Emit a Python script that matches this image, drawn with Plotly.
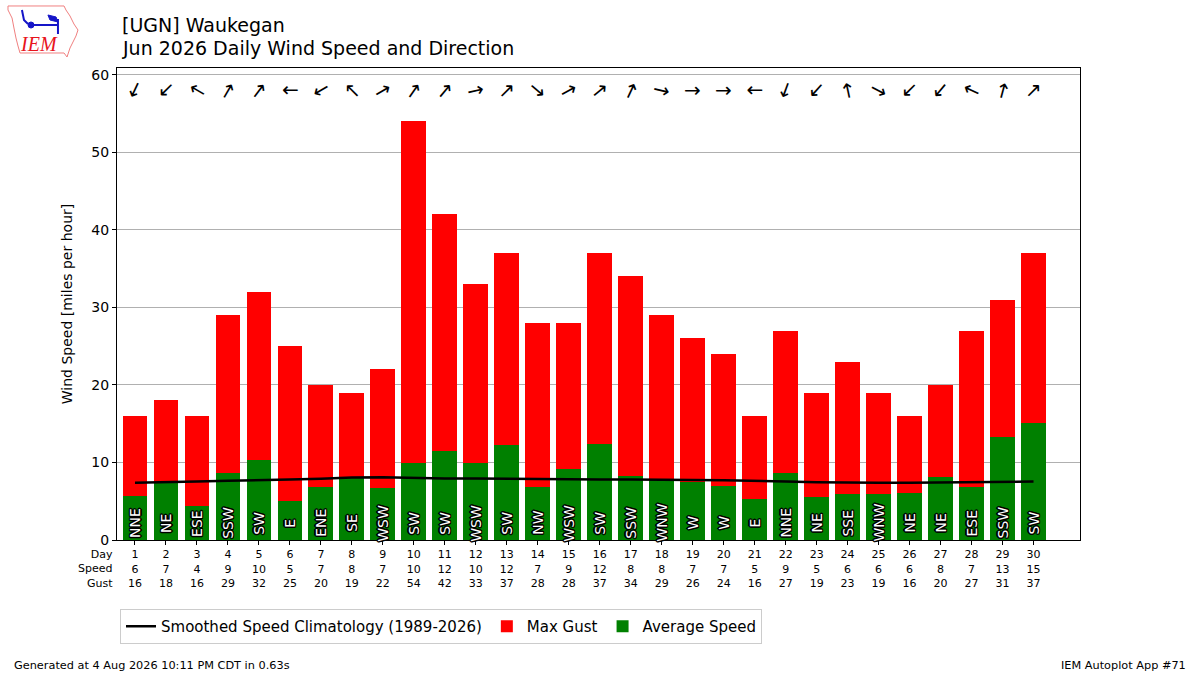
"""Daily wind speed and direction chart, IEM style"""
import plotly.graph_objects as go

W, H = 1200, 675
# plot area in pixels
PL, PR, PT, PB = 117, 1080, 68, 540

DAYS = list(range(1, 31))
AVG_SPEED = [5.7, 7.4, 4.4, 8.6, 10.3, 5.0, 6.8, 8.0, 6.7, 10.0,
             11.5, 9.9, 12.2, 6.8, 9.1, 12.4, 8.3, 7.9, 7.5, 7.0,
             5.3, 8.6, 5.5, 6.0, 6.0, 6.1, 8.1, 6.8, 13.3, 15.1]
MAX_GUST = [16, 18, 16, 29, 32, 25, 20, 19, 22, 54,
            42, 33, 37, 28, 28, 37, 34, 29, 26, 24,
            16, 27, 19, 23, 19, 16, 20, 27, 31, 37]
SPEED_LABEL = [6, 7, 4, 9, 10, 5, 7, 8, 7, 10,
               12, 10, 12, 7, 9, 12, 8, 8, 7, 7,
               5, 9, 5, 6, 6, 6, 8, 7, 13, 15]
DIR_DEG = [25, 45, 120, 210, 217, 90, 60, 135, 240, 215,
           220, 257, 225, 310, 242, 230, 205, 283, 270, 270,
           90, 20, 42, 168, 298, 45, 40, 115, 195, 225]
DIR_TXT = ["NNE", "NE", "ESE", "SSW", "SW", "E", "ENE", "SE", "WSW", "SW",
           "SW", "WSW", "SW", "NW", "WSW", "SW", "SSW", "WNW", "W", "W",
           "E", "NNE", "NE", "SSE", "WNW", "NE", "NE", "ESE", "SSW", "SW"]
CLIMO = [7.4, 7.45, 7.55, 7.65, 7.7, 7.8, 7.9, 8.05, 8.1, 8.0,
         7.95, 7.95, 7.9, 7.85, 7.8, 7.8, 7.8, 7.8, 7.75, 7.7,
         7.65, 7.55, 7.45, 7.4, 7.4, 7.4, 7.45, 7.45, 7.5, 7.55]

FONT = "DejaVu Sans"
OUTLINE = ("-1px -1px 0 #000, 1px -1px 0 #000, -1px 1px 0 #000, 1px 1px 0 #000, "
           "0 -1.5px 0 #000, 0 1.5px 0 #000, -1.5px 0 0 #000, 1.5px 0 0 #000")
LOGO_RED = "#e8141c"
LOGO_BLUE = "#1515c8"


def px2paper(x, y):
  return (x - PL) / (PR - PL), (PB - y) / (PB - PT)


def px_path(points, close=True):
  s = "M " + " L ".join(f"{px2paper(x, y)[0]:.4f},{px2paper(x, y)[1]:.4f}" for x, y in points)
  return s + (" Z" if close else "")


fig = go.Figure()
fig.add_trace(go.Bar(x=DAYS, y=MAX_GUST, width=0.8, marker=dict(color="#ff0000", line=dict(width=0)),
                     name="Max Gust", legendrank=2, opacity=1))
fig.add_trace(go.Bar(x=DAYS, y=AVG_SPEED, width=0.8, marker=dict(color="#008000", line=dict(width=0)),
                     name="Average Speed", legendrank=3, opacity=1))
fig.add_trace(go.Scatter(x=DAYS, y=CLIMO, mode="lines", line=dict(color="black", width=2.5),
                         name="Smoothed Speed Climatology (1989-2026)", legendrank=1))

annotations = []
# direction arrows along the top
for d, deg in zip(DAYS, DIR_DEG):
  ang = (deg + 90) % 360
  if ang > 180:
    ang -= 360
  annotations.append(dict(x=d, y=58, xref="x", yref="y", text="→", showarrow=False,
                          textangle=ang, font=dict(family=FONT, size=20, color="black")))
# direction text inside the bars
for d, t in zip(DAYS, DIR_TXT):
  annotations.append(dict(x=d, y=2.2, xref="x", yref="y", text=t, showarrow=False,
                          textangle=-90, xanchor="center", yanchor="middle",
                          font=dict(family=FONT, size=14, color="white", shadow=OUTLINE)))
# row titles for the table under the axis
annotations.append(dict(x=0, y=-0.013, xref="paper", yref="paper", xanchor="right", yanchor="top",
                        xshift=-2, text="Day<br>Speed<br>Gust", align="right", showarrow=False,
                        font=dict(family=FONT, size=11, color="black")))
# title, two lines
annotations.append(dict(x=px2paper(120, 0)[0], y=px2paper(0, 25)[1], xref="paper", yref="paper",
                        xanchor="left", yanchor="middle", showarrow=False, text="[UGN] Waukegan",
                        font=dict(family=FONT, size=19, color="black")))
annotations.append(dict(x=px2paper(120, 0)[0], y=px2paper(0, 48)[1], xref="paper", yref="paper",
                        xanchor="left", yanchor="middle", showarrow=False,
                        text="Jun 2026 Daily Wind Speed and Direction",
                        font=dict(family=FONT, size=19, color="black")))
# footer
annotations.append(dict(x=px2paper(12, 0)[0], y=px2paper(0, 665)[1], xref="paper", yref="paper",
                        xanchor="left", yanchor="middle", showarrow=False,
                        text="Generated at 4 Aug 2026 10:11 PM CDT in 0.63s",
                        font=dict(family=FONT, size=11.3, color="black")))
annotations.append(dict(x=px2paper(1188, 0)[0], y=px2paper(0, 665)[1], xref="paper", yref="paper",
                        xanchor="right", yanchor="middle", showarrow=False,
                        text="IEM Autoplot App #71",
                        font=dict(family=FONT, size=11.3, color="black")))
# logo text
annotations.append(dict(x=px2paper(39, 0)[0], y=px2paper(0, 44)[1], xref="paper", yref="paper",
                        xanchor="center", yanchor="middle", showarrow=False, text="<i>IEM</i>",
                        font=dict(family="Liberation Serif", size=20, color=LOGO_RED)))

# rough state outline + weather vane for the logo
outline = [(8, 6), (64, 6), (66, 10), (70, 16), (74, 24), (78, 30), (76, 36), (73, 42),
           (70, 48), (67, 57), (64, 53), (20, 53), (18, 46), (16, 38), (14, 28), (12, 18), (8, 10)]
shapes = [dict(type="path", path=px_path(outline), xref="paper", yref="paper",
               line=dict(color="#f08080", width=1), fillcolor="rgba(0,0,0,0)")]
for seg in ([(31, 25), (58, 25)], [(58, 19), (58, 34)], [(22, 10), (24, 20), (28, 24)]):
  shapes.append(dict(type="path", path=px_path(seg, close=False), xref="paper", yref="paper",
                     line=dict(color=LOGO_BLUE, width=2)))
shapes.append(dict(type="path", path=px_path([(48, 15), (56, 17), (58, 22), (50, 20)]),
                   xref="paper", yref="paper", fillcolor=LOGO_BLUE, line=dict(color=LOGO_BLUE, width=1)))
cx0, cy0 = px2paper(28, 22)
cx1, cy1 = px2paper(34, 28)
shapes.append(dict(type="circle", xref="paper", yref="paper", x0=cx0, y0=cy0, x1=cx1, y1=cy1,
                   fillcolor=LOGO_BLUE, line=dict(color=LOGO_BLUE, width=1)))

ticktext = [f"{d}<br>{s}<br>{g}" for d, s, g in zip(DAYS, SPEED_LABEL, MAX_GUST)]

fig.update_layout(
  width=W, height=H,
  margin=dict(l=PL, r=W - PR, t=PT, b=H - PB, autoexpand=False),
  paper_bgcolor="white", plot_bgcolor="white",
  barmode="overlay", bargap=0,
  font=dict(family=FONT, size=14, color="black"),
  legend=dict(orientation="h", x=px2paper(120, 0)[0], y=px2paper(0, 609)[1],
              xanchor="left", yanchor="top", bordercolor="#cccccc", borderwidth=1,
              font=dict(family=FONT, size=15), traceorder="normal"),
  annotations=annotations,
  shapes=shapes,
)
fig.update_xaxes(range=[0.42, 31.5], tickvals=DAYS, ticktext=ticktext, ticks="outside", ticklen=4,
                 tickcolor="black", showgrid=False, zeroline=False, showline=True, linecolor="black",
                 mirror=True, tickfont=dict(family=FONT, size=11))
fig.update_yaxes(range=[0, 60.9], dtick=10, ticks="outside", ticklen=4, tickcolor="black",
                 showgrid=True, gridcolor="#b0b0b0", gridwidth=1, zeroline=False, showline=True,
                 linecolor="black", mirror=True, title=dict(text="Wind Speed [miles per hour]",
                                                            font=dict(family=FONT, size=14)),
                 tickfont=dict(family=FONT, size=14))

fig.write_html("out.html", config={"displayModeBar": False},
               post_script="document.body.style.margin='0';")
